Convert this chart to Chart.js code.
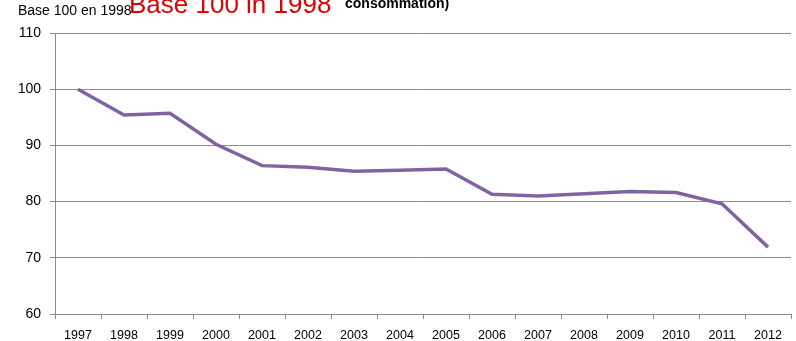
<!DOCTYPE html>
<html>
<head>
<meta charset="utf-8">
<script src="https://cdn.jsdelivr.net/npm/chart.js@4/dist/chart.umd.min.js"></script>
<style>
    html, body { margin: 0; padding: 0; background: #ffffff; }
    #wrap { width: 796px; height: 341px; }
</style>
</head>
<body>
<div id="wrap"><canvas id="indexChart" width="796" height="341"></canvas></div>
<script>
const years = ["1997", "1998", "1999", "2000", "2001", "2002", "2003", "2004",
    "2005", "2006", "2007", "2008", "2009", "2010", "2011", "2012"];
const indexValues = [100, 95.4, 95.7, 90.2, 86.4, 86.1, 85.4, 85.6,
    85.8, 81.3, 81.0, 81.4, 81.8, 81.6, 79.6, 71.9];
const yTicks = [60, 70, 80, 90, 100, 110];

const lineColor = "#8064a2";
const axisGray = "#8c8c8c";

// headings drawn on the canvas, partly cut off at the top like the source
const headerText = {
    id: "headerText",
    afterDraw(chart) {
        const ctx = chart.ctx;
        ctx.save();
        ctx.textBaseline = "alphabetic";
        ctx.textAlign = "left";
        ctx.fillStyle = "#e00000";
        ctx.font = "26px 'Liberation Sans', Arial, sans-serif";
        ctx.fillText("Base 100 in 1998", 129, 13);
        ctx.fillStyle = "#000000";
        ctx.font = "bold 14px 'Liberation Sans', Arial, sans-serif";
        ctx.fillText("consommation)", 345, 8);
        ctx.font = "14px 'Liberation Sans', Arial, sans-serif";
        ctx.fillText("Base 100 en 1998", 18, 15);
        ctx.restore();
    },
};

new Chart(document.getElementById("indexChart"), {
    type: "line",
    data: {
        labels: years,
        datasets: [
            {
                label: "Index",
                data: indexValues,
                borderColor: lineColor,
                borderWidth: 3.5,
                pointRadius: 0,
                tension: 0,
                fill: false,
            },
        ],
    },
    options: {
        responsive: false,
        animation: false,
        devicePixelRatio: 1,
        layout: { padding: { top: 33, right: 5, left: 0, bottom: 0 } },
        plugins: {
            legend: { display: false },
            tooltip: { enabled: false },
        },
        scales: {
            x: {
                offset: true,
                grid: {
                    offset: true,
                    drawOnChartArea: false,
                    drawTicks: true,
                    tickLength: 5,
                    color: axisGray,
                },
                border: { color: axisGray, width: 1 },
                ticks: {
                    color: "#000000",
                    padding: 9,
                    maxRotation: 0,
                    autoSkip: false,
                    font: { family: "'Liberation Sans', Arial, sans-serif", size: 12.5 },
                },
                afterFit: (scale) => { scale.height = 27; },
            },
            y: {
                min: 60,
                max: 110,
                afterBuildTicks: (scale) => { scale.ticks = yTicks.map((v) => ({ value: v })); },
                grid: {
                    color: axisGray,
                    tickLength: 5,
                    drawTicks: true,
                },
                border: { color: axisGray, width: 1 },
                ticks: {
                    color: "#000000",
                    padding: 9,
                    font: { family: "'Liberation Sans', Arial, sans-serif", size: 14 },
                },
                afterFit: (scale) => { scale.width = 55; },
            },
        },
    },
    plugins: [headerText],
});
</script>
</body>
</html>
